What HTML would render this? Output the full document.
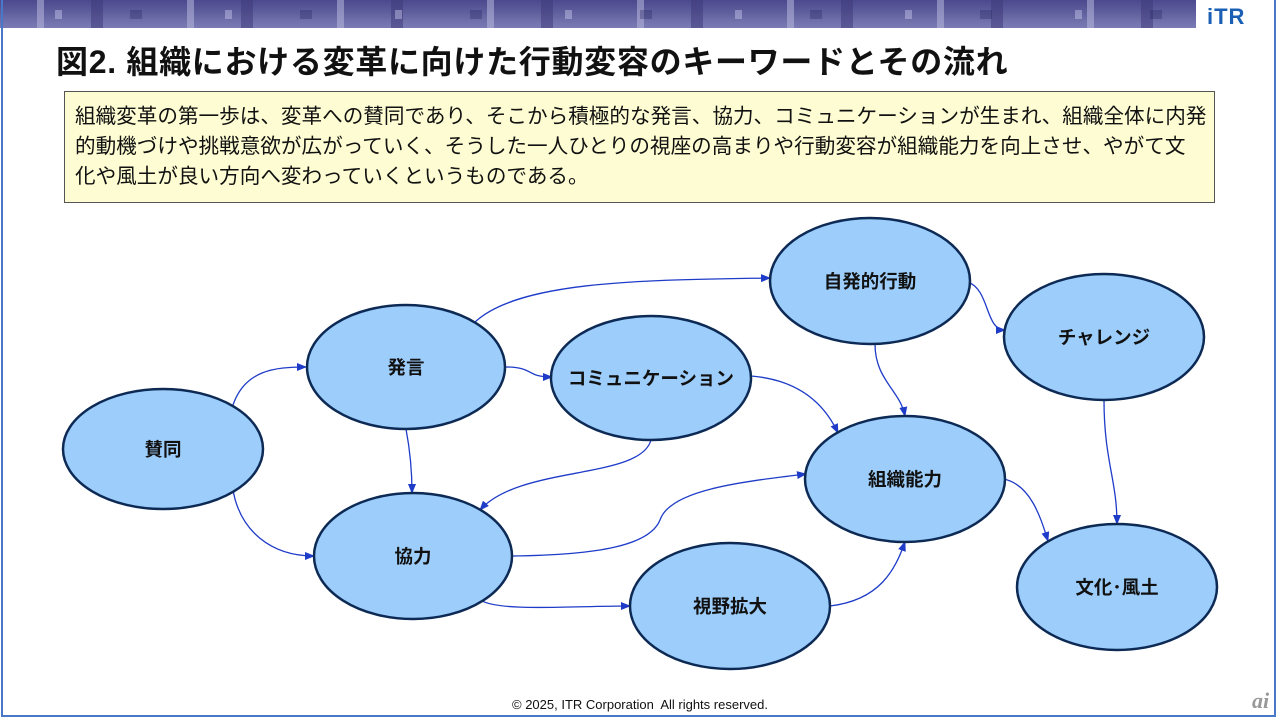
<!DOCTYPE html>
<html><head><meta charset="utf-8"><style>
html,body{margin:0;padding:0;background:#fff;}
body{width:1280px;height:722px;position:relative;overflow:hidden;font-family:"Liberation Sans","Noto Sans CJK JP",sans-serif;}
.frame{position:absolute;left:1px;top:0;width:1275px;height:717px;border:2px solid #4a78c8;border-top:none;box-sizing:border-box;}
.band{position:absolute;left:0;top:0;width:1196px;height:28px;
background:
repeating-linear-gradient(90deg,rgba(255,255,255,0) 0 37px,rgba(190,190,225,.5) 37px 44px,rgba(255,255,255,0) 44px 91px,rgba(60,55,120,.5) 91px 103px,rgba(255,255,255,0) 103px 150px),
linear-gradient(180deg,#4c4a8e 0,#5b5a9a 10px,#6e6eaa 20px,#7a7ab4 28px);}
.band2{position:absolute;left:0;top:10px;width:1196px;height:9px;background:repeating-linear-gradient(90deg,rgba(255,255,255,0) 0 55px,rgba(200,200,235,.45) 55px 62px,rgba(255,255,255,0) 62px 130px,rgba(40,40,100,.35) 130px 142px,rgba(255,255,255,0) 142px 170px);}
.logo{position:absolute;left:1207px;top:4px;font:bold 22px "Liberation Sans",sans-serif;color:#1a5fb4;letter-spacing:1px;}
.title{position:absolute;left:56px;top:37px;font-size:32px;font-weight:bold;color:#111;letter-spacing:0.7px;white-space:nowrap;}
.box{position:absolute;left:64px;top:91px;width:1151px;height:112px;box-sizing:border-box;background:#fdfcd2;border:1px solid #555;padding:10px 0 0 10px;font-size:20.6px;line-height:30px;color:#111;white-space:nowrap;}
.foot{position:absolute;left:0;width:1280px;top:697px;text-align:center;font-size:13px;color:#111;}
.ai{position:absolute;left:1252px;top:688px;font:italic bold 22px "Liberation Serif",serif;color:#999;}
svg{position:absolute;left:0;top:0;}
svg text{font-family:"Liberation Sans","Noto Sans CJK JP",sans-serif;font-weight:bold;font-size:18.5px;fill:#111;text-anchor:middle;}
</style></head><body>
<div class="band"></div><div class="band2"></div>
<div class="logo">iTR</div>
<div class="title">図2.&nbsp;組織における変革に向けた行動変容のキーワードとその流れ</div>
<div class="box">組織変革の第一歩は、変革への賛同であり、そこから積極的な発言、協力、コミュニケーションが生まれ、組織全体に内発<br>的動機づけや挑戦意欲が広がっていく、そうした一人ひとりの視座の高まりや行動変容が組織能力を向上させ、やがて文<br>化や風土が良い方向へ変わっていくというものである。</div>
<svg width="1280" height="722">
<defs><marker id="a" markerWidth="10" markerHeight="8" refX="9" refY="4" orient="auto" markerUnits="userSpaceOnUse"><path d="M0,0 L10,4 L0,8 z" fill="#1f3cc8"/></marker></defs>
<g fill="none" stroke="#1f3cc8" stroke-width="1.3" marker-end="url(#a)">
<path d="M233,405 C245,370 275,367 306,367"/>
<path d="M233,490 C240,530 270,556 314,556"/>
<path d="M505,367 C535,367 525,377 552,377"/>
<path d="M475,322 C520,280 650,280 770,278"/>
<path d="M406,429 C410,450 412,470 412,493"/>
<path d="M651,440 C640,480 520,465 480,510"/>
<path d="M751,376 C800,380 825,405 838,433"/>
<path d="M512,556 C600,555 650,545 660,520 C670,490 740,482 806,474"/>
<path d="M480,600 C500,612 570,606 630,606"/>
<path d="M830,606 C880,600 895,570 905,542"/>
<path d="M875,344 C875,380 900,390 905,416"/>
<path d="M968,282 C990,290 985,330 1005,330"/>
<path d="M1104,400 C1104,460 1117,480 1117,524"/>
<path d="M1004,479 C1030,485 1040,515 1048,541"/>
</g>
<g fill="#9dcdfb" stroke="#0d2a55" stroke-width="2.5">
<ellipse cx="163" cy="449" rx="100" ry="60"/>
<ellipse cx="406" cy="367" rx="99" ry="62"/>
<ellipse cx="651" cy="378" rx="100" ry="62"/>
<ellipse cx="870" cy="281" rx="100" ry="63"/>
<ellipse cx="1104" cy="337" rx="100" ry="63"/>
<ellipse cx="905" cy="479" rx="100" ry="63"/>
<ellipse cx="413" cy="556" rx="99" ry="63"/>
<ellipse cx="730" cy="606" rx="100" ry="63"/>
<ellipse cx="1117" cy="587" rx="100" ry="63"/>
</g>
<text x="163" y="456">賛同</text>
<text x="406" y="374">発言</text>
<text x="651" y="385">コミュニケーション</text>
<text x="870" y="288">自発的行動</text>
<text x="1104" y="344">チャレンジ</text>
<text x="905" y="486">組織能力</text>
<text x="413" y="563">協力</text>
<text x="730" y="613">視野拡大</text>
<text x="1117" y="594">文化･風土</text>
</svg>
<div class="foot">© 2025, ITR Corporation&nbsp; All rights reserved.</div>
<div class="ai">ai</div>
<div class="frame"></div>
</body></html>
